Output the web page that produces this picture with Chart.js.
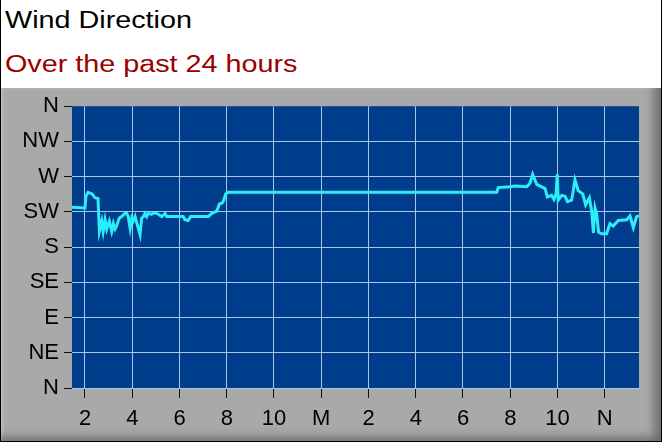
<!DOCTYPE html>
<html>
<head>
<meta charset="utf-8">
<script src="https://cdn.jsdelivr.net/npm/chart.js@4"></script>
<style>
  html, body { margin: 0; padding: 0; background: #fff; }
  #frame { position: relative; width: 662px; height: 442px; overflow: hidden; background: #fff; }
  #frame::after { content: ""; position: absolute; left: 0; top: 0; width: 660px; height: 441px; border-left: 1px solid #000; border-right: 1px solid #000; border-bottom: 1px solid #000; pointer-events: none; }
  .title { position: absolute; left: 5px; font-family: "Liberation Sans", Arial, sans-serif; font-size: 23px; white-space: nowrap; line-height: 1;
           transform: scaleX(1.25); transform-origin: 0 0; }
  #t1 { top: 9px; color: #000; }
  #t2 { top: 53px; color: #990000; }
  #panel { position: absolute; left: 0; top: 88px; width: 662px; height: 354px; background: #a9a9a9;
           box-shadow: inset -13px -10px 10px -5px rgba(0,0,0,0.35), inset 5px 2px 3px -2px rgba(255,255,255,0.25); }
  #panel canvas { position: absolute; left: 0; top: 0; }
</style>
</head>
<body>
<div id="frame">
  <div class="title" id="t1">Wind Direction</div>
  <div class="title" id="t2">Over the past 24 hours</div>
  <div id="panel"><canvas id="c" width="662" height="354"></canvas></div>
</div>
<script>
// hours since noon of the first day (12 = midnight, 24 = noon)
const times = [1.45,2.00,2.04,2.13,2.30,2.42,2.55,2.61,2.71,2.77,2.85,2.92,3.03,3.13,3.20,3.27,3.34,3.45,3.55,3.69,3.77,3.83,3.91,3.98,4.04,4.12,4.21,4.33,4.40,4.47,4.54,4.61,4.68,4.82,4.96,5.10,5.25,5.39,5.46,5.60,6.16,6.23,6.37,6.47,6.58,7.22,7.36,7.58,7.69,7.79,7.85,7.96,8.07,19.43,19.49,19.99,20.20,20.70,20.84,20.95,21.12,21.33,21.47,21.57,21.75,21.85,21.94,21.99,22.03,22.18,22.32,22.42,22.60,22.74,22.88,23.07,23.19,23.35,23.45,23.52,23.59,23.66,23.74,23.87,24.08,24.22,24.36,24.57,24.93,25.07,25.21,25.35,25.45];
// wind direction in degrees
const directions = [231,230,245,250,248,243,242,200,213,200,215,203,213,200,210,203,207,217,219,223,223,219,204,217,213,219,209,196,217,219,223,219,223,222,224,222,219,223,219,219,219,215,214,219,219,219,223,226,235,236,238,248,250,250,256,257,258,257,262,273,260,257,255,244,246,241,248,273,240,246,245,238,240,266,252,248,234,243,225,198,230,222,199,197,197,210,207,214,215,220,205,219,220];
const xTickValues = [2,4,6,8,10,12,14,16,18,20,22,24];
const xTickLabels = ['2','4','6','8','10','M','2','4','6','8','10','N'];
const yTickValues = [0,45,90,135,180,225,270,315,360];
const yTickLabels = ['N','NE','E','SE','S','SW','W','NW','N'];
const xMin = 1.45, xMax = 25.45;

const plotBg = {
  id: 'plotBg',
  beforeDraw(chart) {
    const a = chart.chartArea, ctx = chart.ctx;
    ctx.save();
    ctx.fillStyle = '#003d8c';
    ctx.fillRect(a.left, a.top, a.right - a.left, a.bottom - a.top);
    ctx.restore();
  }
};

const tickFont = { family: '"Liberation Sans", Arial, sans-serif', size: 22 };

new Chart(document.getElementById('c'), {
  type: 'line',
  data: {
    datasets: [{
      data: times.map((t, i) => ({ x: t, y: directions[i] })),
      borderColor: '#2aeefa',
      borderWidth: 3,
      pointRadius: 0,
      tension: 0,
      fill: false
    }]
  },
  options: {
    responsive: false,
    animation: false,
    events: [],
    layout: { padding: { left: 0, right: 23, top: 16, bottom: 0 } },
    plugins: { legend: { display: false }, tooltip: { enabled: false } },
    scales: {
      x: {
        type: 'linear',
        min: xMin, max: xMax,
        afterBuildTicks(s) { s.ticks = xTickValues.map(v => ({ value: v })); },
        afterFit(s) { s.height = 54; },
        grid: { color: '#a9c6ee', lineWidth: 1, tickColor: '#111', tickLength: 10 },
        border: { display: false },
        ticks: {
          autoSkip: false, maxRotation: 0, padding: 8, color: '#000', font: tickFont,
          callback(v) { const i = xTickValues.indexOf(v); return i >= 0 ? xTickLabels[i] : ''; }
        }
      },
      y: {
        type: 'linear',
        min: 0, max: 360,
        afterBuildTicks(s) { s.ticks = yTickValues.map(v => ({ value: v })); },
        afterFit(s) { s.width = 72; },
        grid: {
          color: (c) => (c.tick && c.tick.value === 360) ? 'rgba(0,0,0,0)' : '#a9c6ee',
          lineWidth: 1, tickColor: '#111', tickLength: 8
        },
        border: { display: false },
        ticks: {
          autoSkip: false, padding: 5, color: '#000', font: tickFont,
          callback(v) { const i = yTickValues.indexOf(v); return i >= 0 ? yTickLabels[i] : ''; }
        }
      }
    }
  },
  plugins: [plotBg]
});
</script>
</body>
</html>
